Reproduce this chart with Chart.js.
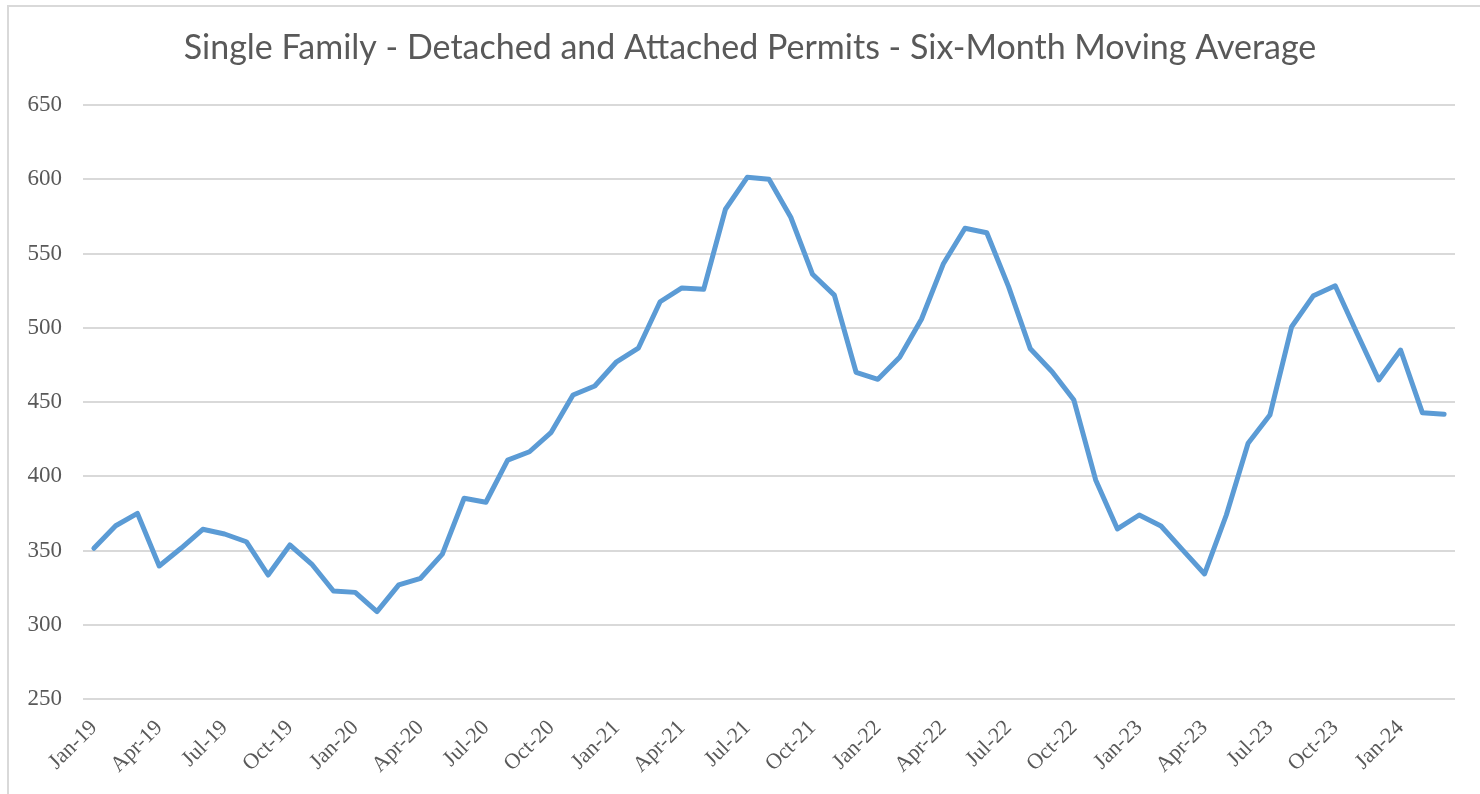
<!DOCTYPE html>
<html>
<head>
<meta charset="utf-8">
<script src="https://cdn.jsdelivr.net/npm/chart.js@4"></script>
<style>
  html, body { margin: 0; padding: 0; background: #fff; }
  #wrap { position: relative; width: 1480px; height: 794px; }
  #frame { position: absolute; left: 7px; top: 5px; right: -2px; bottom: -2px; border: 2px solid #d9d9d9; }
  canvas { position: absolute; left: 0; top: 0; }
</style>
</head>
<body>
<div id="wrap">
  <div id="frame"></div>
  <canvas id="permitChart" width="1480" height="794"></canvas>
</div>
<script>
const months = [
  'Jan-19', 'Feb-19', 'Mar-19', 'Apr-19', 'May-19', 'Jun-19', 'Jul-19', 'Aug-19', 'Sep-19', 'Oct-19', 'Nov-19', 'Dec-19',
  'Jan-20', 'Feb-20', 'Mar-20', 'Apr-20', 'May-20', 'Jun-20', 'Jul-20', 'Aug-20', 'Sep-20', 'Oct-20', 'Nov-20', 'Dec-20',
  'Jan-21', 'Feb-21', 'Mar-21', 'Apr-21', 'May-21', 'Jun-21', 'Jul-21', 'Aug-21', 'Sep-21', 'Oct-21', 'Nov-21', 'Dec-21',
  'Jan-22', 'Feb-22', 'Mar-22', 'Apr-22', 'May-22', 'Jun-22', 'Jul-22', 'Aug-22', 'Sep-22', 'Oct-22', 'Nov-22', 'Dec-22',
  'Jan-23', 'Feb-23', 'Mar-23', 'Apr-23', 'May-23', 'Jun-23', 'Jul-23', 'Aug-23', 'Sep-23', 'Oct-23', 'Nov-23', 'Dec-23',
  'Jan-24', 'Feb-24', 'Mar-24'
];

const permits = [
  351.5, 366.7, 375.0, 339.6, 351.5, 364.3, 361.1, 355.9, 333.5, 353.7, 340.9, 322.7,
  321.8, 308.8, 326.8, 331.3, 347.6, 385.2, 382.5, 410.9, 416.5, 429.6, 454.7, 460.8,
  477.1, 486.2, 517.5, 526.8, 525.9, 579.8, 601.3, 600.0, 574.4, 536.0, 522.0, 470.0,
  465.3, 480.1, 505.7, 542.9, 567.0, 564.0, 527.7, 485.8, 470.4, 451.3, 397.5, 364.5,
  373.9, 366.5, 350.3, 334.2, 373.9, 422.2, 441.2, 500.7, 521.6, 528.3, 496.3, 464.8,
  485.0, 442.8, 441.7
];

const yMin = 250;
const yMax = 650;
const yStep = 50;

const chartTitle = 'Single Family - Detached and Attached Permits - Six-Month Moving Average';

const textGray = '#595959';
const gridGray = '#d9d9d9';

// title is centred on the whole picture, not on the plot, so draw it by hand
const titlePlugin = {
  id: 'centredTitle',
  afterDraw: function(chart) {
    const c = chart.ctx;
    c.save();
    c.font = '34px Lato';
    c.fillStyle = textGray;
    c.textAlign = 'center';
    c.textBaseline = 'middle';
    c.fillText(chartTitle, 750, 48);
    c.restore();
  }
};

const ctx = document.getElementById('permitChart').getContext('2d');
const permitChart = new Chart(ctx, {
  type: 'line',
  data: {
    labels: months,
    datasets: [{
      label: 'Six-Month Moving Average',
      data: permits,
      borderColor: '#5b9bd5',
      borderWidth: 5,
      borderJoinStyle: 'round',
      borderCapStyle: 'round',
      pointRadius: 0,
      tension: 0,
      fill: false
    }]
  },
  plugins: [titlePlugin],
  options: {
    responsive: false,
    animation: false,
    layout: {
      padding: { top: 105, right: 25, bottom: 0, left: 0 }
    },
    plugins: {
      legend: { display: false },
      tooltip: { enabled: false },
      title: { display: false }
    },
    scales: {
      x: {
        offset: true,
        grid: { display: false, drawTicks: false },
        border: { display: false },
        ticks: {
          autoSkip: false,
          maxRotation: 45,
          minRotation: 45,
          padding: 16,
          color: textGray,
          font: { family: 'Liberation Serif', size: 22 },
          callback: function(value, index) {
            return index % 3 === 0 ? months[index] : '';
          }
        },
        afterFit: function(scale) { scale.height = 95; }
      },
      y: {
        min: yMin,
        max: yMax,
        grid: { color: gridGray, lineWidth: 2, drawTicks: false },
        border: { display: false },
        ticks: {
          stepSize: yStep,
          padding: 21,
          color: textGray,
          font: { family: 'Liberation Serif', size: 23 }
        },
        afterFit: function(scale) { scale.width = 83; }
      }
    }
  }
});
</script>
</body>
</html>
